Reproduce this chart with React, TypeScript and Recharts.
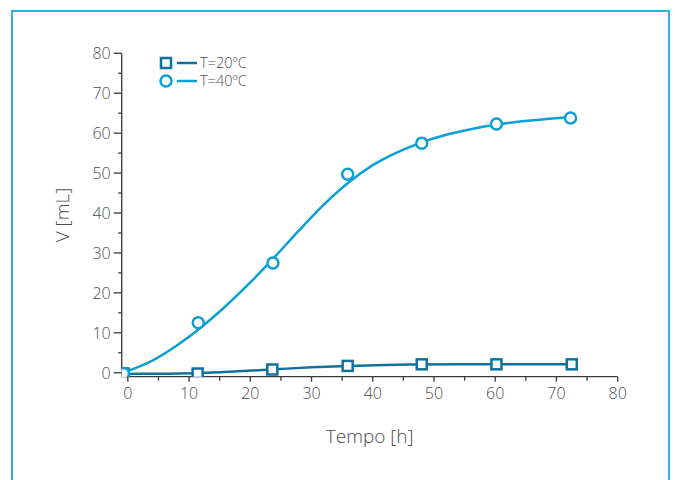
import { ComposedChart, Line, Scatter, XAxis, YAxis, Legend, Label } from "recharts";

// measured points
const TIME_20 = [-0.7, 11.4, 23.6, 35.9, 48.0, 60.2, 72.5];
const VOL_20 = [-0.2, -0.2, 0.8, 1.7, 2.1, 2.1, 2.1];
const TIME_40 = [-0.7, 11.5, 23.7, 35.9, 48.0, 60.2, 72.3];
const VOL_40 = [-0.2, 12.5, 27.5, 49.7, 57.5, 62.3, 63.8];

// fitted curves
const FIT_TIME_20 = [-0.7, 6, 12, 18, 24, 30, 36, 42, 48, 54, 60, 66, 72.5];
const FIT_VOL_20 = [-0.3, -0.25, -0.1, 0.35, 0.85, 1.35, 1.7, 1.95, 2.05, 2.1, 2.1, 2.1, 2.1];
const FIT_TIME_40 = [-0.7, 4, 8, 12, 16, 20, 24, 28, 32, 36, 40, 44, 48, 52, 56, 60, 64, 68, 72.3];
const FIT_VOL_40 = [0, 3.0, 6.8, 11.4, 16.7, 22.6, 29.0, 35.7, 42.1, 47.6, 52.0, 55.2, 57.7, 59.6, 61.0, 62.1, 62.9, 63.5, 64.0];

const X_TICKS = [0, 5, 10, 15, 20, 25, 30, 35, 40, 45, 50, 55, 60, 65, 70, 75, 80];
const Y_TICKS = [0, 5, 10, 15, 20, 25, 30, 35, 40, 45, 50, 55, 60, 65, 70, 75, 80];

const SERIES_NAMES = ["T=20ºC", "T=40ºC"];

const DARK = "#11719b";
const LIGHT = "#0ba0d5";
const AXIS = "#3a3a3a";
const TEXT = "#4d4d4d";
const FONT = "'Open Sans', sans-serif";

const toRows = (xs: number[], ys: number[]) => xs.map((x, i) => ({ x, y: ys[i] }));

const pts20 = toRows(TIME_20, VOL_20);
const pts40 = toRows(TIME_40, VOL_40);
const fit20 = toRows(FIT_TIME_20, FIT_VOL_20);
const fit40 = toRows(FIT_TIME_40, FIT_VOL_40);

function XTick({ x, y, payload }: any) {
  const major = payload.value % 10 === 0;
  return (
    <g>
      <line x1={x} x2={x} y1={y} y2={y + (major ? 5 : 4)} stroke={AXIS} strokeWidth={1.3} />
      {major && (
        <text x={x} y={y + 16} textAnchor="middle" dominantBaseline="central" fontSize={16} fill={TEXT} fontFamily={FONT} fontWeight={300}>
          {payload.value}
        </text>
      )}
    </g>
  );
}

function YTick({ x, y, payload }: any) {
  const major = payload.value % 10 === 0;
  return (
    <g>
      <line x1={x} x2={x - (major ? 8 : 3.5)} y1={y} y2={y} stroke={AXIS} strokeWidth={1.3} />
      {major && (
        <text x={x - 11} y={y} textAnchor="end" dominantBaseline="central" fontSize={16} fill={TEXT} fontFamily={FONT} fontWeight={300}>
          {payload.value}
        </text>
      )}
    </g>
  );
}

function Square({ cx, cy }: any) {
  return <rect x={cx - 5} y={cy - 5} width={10} height={10} fill="#fff" stroke={DARK} strokeWidth={2.5} />;
}

function Ring({ cx, cy }: any) {
  return <circle cx={cx} cy={cy} r={5.5} fill="#fff" stroke={LIGHT} strokeWidth={2.5} />;
}

function LegendBox() {
  const rows = [
    { name: SERIES_NAMES[0], color: DARK, square: true },
    { name: SERIES_NAMES[1], color: LIGHT, square: false },
  ];
  return (
    <div style={{ fontFamily: FONT, fontSize: 14.5, color: TEXT, fontWeight: 300 }}>
      {rows.map((r) => (
        <div key={r.name} style={{ display: "flex", alignItems: "center", height: 18 }}>
          <svg width={42} height={18} style={{ display: "block" }}>
            {r.square ? (
              <rect x={3} y={4} width={10} height={10} fill="#fff" stroke={r.color} strokeWidth={2.5} />
            ) : (
              <circle cx={8} cy={9} r={5.5} fill="#fff" stroke={r.color} strokeWidth={2.5} />
            )}
            <line x1={19} x2={39} y1={9} y2={9} stroke={r.color} strokeWidth={2.5} />
          </svg>
          <span style={{ display: "block", lineHeight: "16px", height: 16 }}>{r.name}</span>
        </div>
      ))}
    </div>
  );
}

export default function App() {
  return (
    <div style={{ position: "fixed", left: 0, top: 0, width: 675, height: 480, background: "#fff", overflow: "hidden" }}>
      <div
        style={{
          position: "absolute",
          left: 11,
          top: 10,
          width: 655,
          height: 520,
          border: "2px solid #35ade0",
        }}
      />
      <div style={{ position: "absolute", left: 0, top: 0 }}>
        <ComposedChart width={675} height={480} margin={{ top: 53.3, right: 57.3, bottom: 73.3, left: 61.7 }}>
          <XAxis
            type="number"
            dataKey="x"
            domain={[-1, 80]}
            ticks={X_TICKS}
            interval={0}
            allowDataOverflow
            height={30}
            tickSize={0}
            tickMargin={0}
            tickLine={false}
            axisLine={{ stroke: AXIS, strokeWidth: 1.3 }}
            tick={<XTick />}
          >
            <Label
              value="Tempo [h]"
              position="center"
              dy={45}
              style={{ fontFamily: FONT, fontSize: 19, fill: TEXT, fontWeight: 300 }}
            />
          </XAxis>
          <YAxis
            type="number"
            dataKey="y"
            domain={[-1, 80]}
            ticks={Y_TICKS}
            interval={0}
            allowDataOverflow
            width={60}
            tickSize={0}
            tickMargin={0}
            tickLine={false}
            axisLine={{ stroke: AXIS, strokeWidth: 1.3 }}
            tick={<YTick />}
          >
            <Label
              value="V [mL]"
              position="center"
              angle={-90}
              dx={-29}
              style={{ fontFamily: FONT, fontSize: 19, fill: TEXT, fontWeight: 300 }}
            />
          </YAxis>
          <Legend
            layout="vertical"
            align="center"
            verticalAlign="middle"
            content={() => <LegendBox />}
            wrapperStyle={{ top: 54, left: 158, width: 140 }}
          />
          <Line data={fit20} dataKey="y" type="monotone" stroke={DARK} strokeWidth={2.5} dot={false} isAnimationActive={false} legendType="none" />
          <Line data={fit40} dataKey="y" type="monotone" stroke={LIGHT} strokeWidth={2.5} dot={false} isAnimationActive={false} legendType="none" />
          <Scatter data={pts20} dataKey="y" shape={<Square />} isAnimationActive={false} />
          <Scatter data={pts40} dataKey="y" shape={<Ring />} isAnimationActive={false} />
        </ComposedChart>
      </div>
    </div>
  );
}
